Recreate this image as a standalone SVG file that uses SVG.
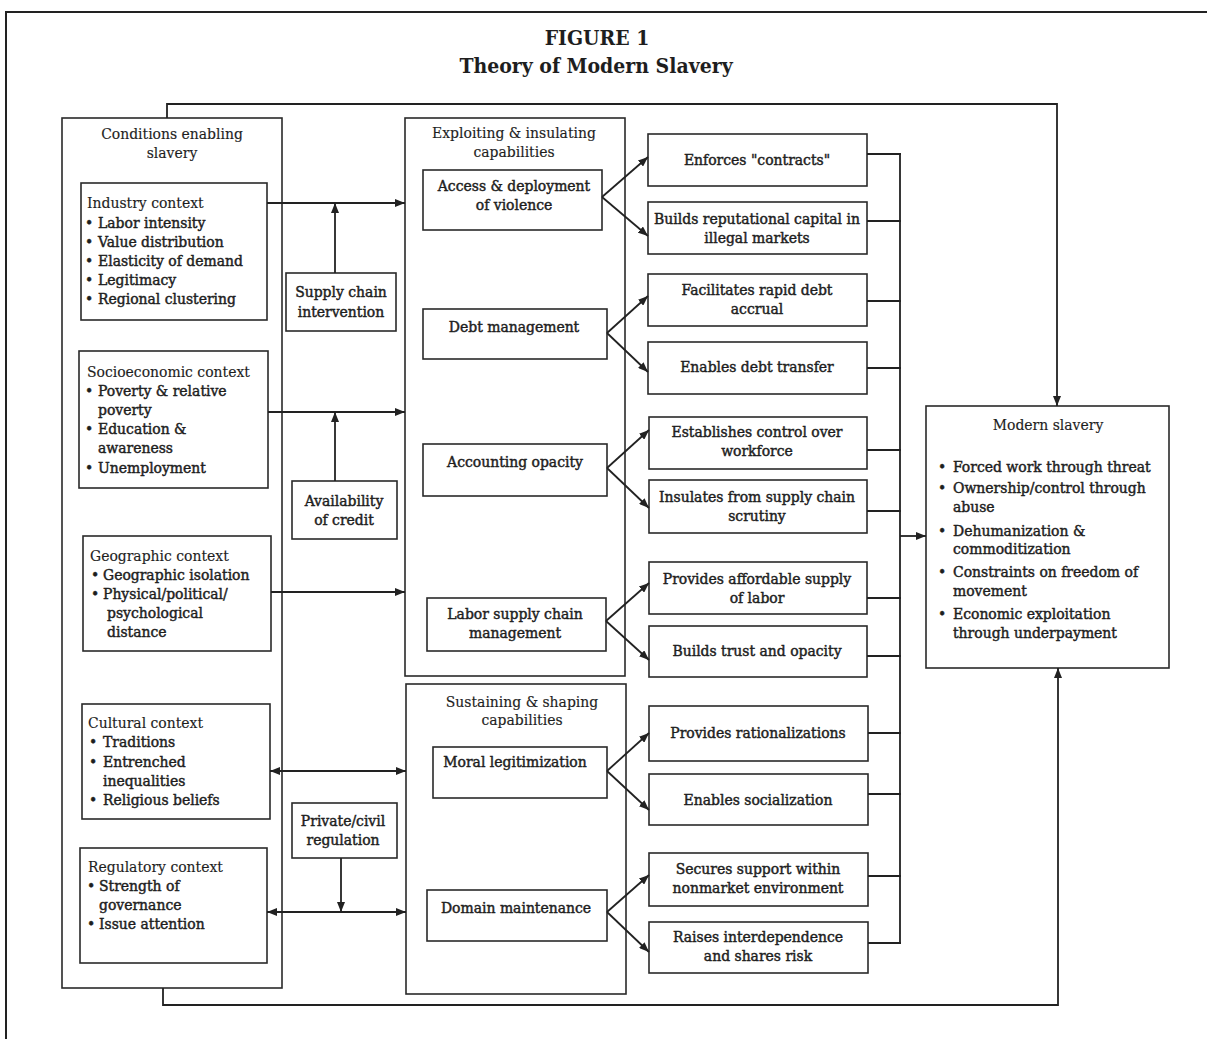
<svg xmlns="http://www.w3.org/2000/svg" width="1207" height="1039" viewBox="0 0 1207 1039">
<style>
text{font-family:'DejaVu Serif Condensed','DejaVu Serif',serif;font-size:15.5px;fill:#1e1e1e;stroke:#1e1e1e;stroke-width:0.15}
.t{font-size:21px;font-weight:bold;text-anchor:middle;stroke-width:0}
.c{text-anchor:middle}
.b{stroke-width:0.45}
.box{fill:none;stroke:#2a2a2a;stroke-width:1.6}
.ln{fill:none;stroke:#222;stroke-width:1.8}
</style>
<defs>
<marker id="ah" viewBox="0 0 10 8" refX="10" refY="4" markerWidth="10" markerHeight="8" markerUnits="userSpaceOnUse" orient="auto-start-reverse"><path d="M0,0 L10,4 L0,8 Z" fill="#222"/></marker>
</defs>
<rect width="1207" height="1039" fill="#fff"/>
<path d="M6,1039 V12 H1207" fill="none" stroke="#222" stroke-width="2"/>
<g id="title">
<text class="t" x="597" y="45">FIGURE 1</text>
<text class="t" x="596" y="73">Theory of Modern Slavery</text>
</g>
<g id="conditions">
<rect class="box" x="62" y="118" width="220" height="870"/>
<text class="c" x="172" y="139">Conditions enabling</text>
<text class="c" x="172" y="158">slavery</text>
</g>
<g id="industry">
<rect class="box" x="81" y="183" width="186" height="137"/>
<text x="87" y="208">Industry context</text>
<text class="b" x="85" y="228">•<tspan x="98">Labor intensity</tspan></text>
<text class="b" x="85" y="247">•<tspan x="98">Value distribution</tspan></text>
<text class="b" x="85" y="266">•<tspan x="98">Elasticity of demand</tspan></text>
<text class="b" x="85" y="285">•<tspan x="98">Legitimacy</tspan></text>
<text class="b" x="85" y="304">•<tspan x="98">Regional clustering</tspan></text>
</g>
<g id="socio">
<rect class="box" x="79" y="351" width="189" height="137"/>
<text x="87" y="377">Socioeconomic context</text>
<text class="b" x="85" y="396">•<tspan x="98">Poverty &amp; relative</tspan></text>
<text class="b" x="98" y="415">poverty</text>
<text class="b" x="85" y="434">•<tspan x="98">Education &amp;</tspan></text>
<text class="b" x="98" y="453">awareness</text>
<text class="b" x="85" y="473">•<tspan x="98">Unemployment</tspan></text>
</g>
<g id="geo">
<rect class="box" x="83" y="536" width="188" height="115"/>
<text x="90" y="561">Geographic context</text>
<text class="b" x="91" y="580">•<tspan x="103">Geographic isolation</tspan></text>
<text class="b" x="91" y="599">•<tspan x="103">Physical/political/</tspan></text>
<text class="b" x="107" y="618">psychological</text>
<text class="b" x="107" y="637">distance</text>
</g>
<g id="cultural">
<rect class="box" x="82" y="704" width="188" height="115"/>
<text x="88" y="728">Cultural context</text>
<text class="b" x="89" y="747">•<tspan x="103">Traditions</tspan></text>
<text class="b" x="89" y="767">•<tspan x="103">Entrenched</tspan></text>
<text class="b" x="103" y="786">inequalities</text>
<text class="b" x="89" y="805">•<tspan x="103">Religious beliefs</tspan></text>
</g>
<g id="regulatory">
<rect class="box" x="80" y="848" width="187" height="115"/>
<text x="88" y="872">Regulatory context</text>
<text class="b" x="87" y="891">•<tspan x="99">Strength of</tspan></text>
<text class="b" x="99" y="910">governance</text>
<text class="b" x="87" y="929">•<tspan x="99">Issue attention</tspan></text>
</g>
<g id="supply-chain">
<rect class="box" x="286" y="273" width="110" height="58"/>
<text class="c b" x="341" y="297">Supply chain</text>
<text class="c b" x="341" y="317">intervention</text>
</g>
<g id="credit">
<rect class="box" x="292" y="481" width="105" height="58"/>
<text class="c b" x="344" y="506">Availability</text>
<text class="c b" x="344" y="525">of credit</text>
</g>
<g id="private-civil">
<rect class="box" x="292" y="803" width="105" height="55"/>
<text class="c b" x="343" y="826">Private/civil</text>
<text class="c b" x="343" y="845">regulation</text>
</g>
<g id="exploiting">
<rect class="box" x="405" y="118" width="220" height="558"/>
<text class="c" x="514" y="138">Exploiting &amp; insulating</text>
<text class="c" x="514" y="157">capabilities</text>
</g>
<g id="violence">
<rect class="box" x="423" y="170" width="179" height="60"/>
<text class="c b" x="514" y="191">Access &amp; deployment</text>
<text class="c b" x="514" y="210">of violence</text>
</g>
<g id="debt">
<rect class="box" x="423" y="309" width="184" height="50"/>
<text class="c b" x="514" y="332">Debt management</text>
</g>
<g id="accounting">
<rect class="box" x="423" y="444" width="184" height="52"/>
<text class="c b" x="515" y="467">Accounting opacity</text>
</g>
<g id="labor">
<rect class="box" x="427" y="598" width="179" height="53"/>
<text class="c b" x="515" y="619">Labor supply chain</text>
<text class="c b" x="515" y="638">management</text>
</g>
<g id="sustaining">
<rect class="box" x="406" y="684" width="220" height="310"/>
<text class="c" x="522" y="707">Sustaining &amp; shaping</text>
<text class="c" x="522" y="725">capabilities</text>
</g>
<g id="moral">
<rect class="box" x="433" y="747" width="174" height="51"/>
<text class="c b" x="515" y="767">Moral legitimization</text>
</g>
<g id="domain">
<rect class="box" x="427" y="890" width="180" height="51"/>
<text class="c b" x="516" y="913">Domain maintenance</text>
</g>
<g id="enforces">
<rect class="box" x="648" y="134" width="219" height="52"/>
<text class="c b" x="757" y="165">Enforces "contracts"</text>
</g>
<g id="reputational">
<rect class="box" x="648" y="202" width="219" height="52"/>
<text class="c b" x="757" y="224">Builds reputational capital in</text>
<text class="c b" x="757" y="243">illegal markets</text>
</g>
<g id="accrual">
<rect class="box" x="648" y="274" width="219" height="52"/>
<text class="c b" x="757" y="295">Facilitates rapid debt</text>
<text class="c b" x="757" y="314">accrual</text>
</g>
<g id="transfer">
<rect class="box" x="648" y="342" width="219" height="52"/>
<text class="c b" x="757" y="372">Enables debt transfer</text>
</g>
<g id="control">
<rect class="box" x="649" y="417" width="218" height="52"/>
<text class="c b" x="757" y="437">Establishes control over</text>
<text class="c b" x="757" y="456">workforce</text>
</g>
<g id="insulates">
<rect class="box" x="649" y="480" width="218" height="53"/>
<text class="c b" x="757" y="502">Insulates from supply chain</text>
<text class="c b" x="757" y="521">scrutiny</text>
</g>
<g id="affordable">
<rect class="box" x="649" y="562" width="218" height="52"/>
<text class="c b" x="757" y="584">Provides affordable supply</text>
<text class="c b" x="757" y="603">of labor</text>
</g>
<g id="trust">
<rect class="box" x="649" y="626" width="218" height="51"/>
<text class="c b" x="757" y="656">Builds trust and opacity</text>
</g>
<g id="rationalizations">
<rect class="box" x="649" y="706" width="219" height="55"/>
<text class="c b" x="758" y="738">Provides rationalizations</text>
</g>
<g id="socialization">
<rect class="box" x="649" y="774" width="219" height="51"/>
<text class="c b" x="758" y="805">Enables socialization</text>
</g>
<g id="nonmarket">
<rect class="box" x="649" y="853" width="219" height="53"/>
<text class="c b" x="758" y="874">Secures support within</text>
<text class="c b" x="758" y="893">nonmarket environment</text>
</g>
<g id="interdependence">
<rect class="box" x="649" y="922" width="219" height="51"/>
<text class="c b" x="758" y="942">Raises interdependence</text>
<text class="c b" x="758" y="961">and shares risk</text>
</g>
<g id="modern-slavery">
<rect class="box" x="926" y="406" width="243" height="262"/>
<text class="c" x="1048" y="430">Modern slavery</text>
<text class="b" x="938" y="472">•<tspan x="953">Forced work through threat</tspan></text>
<text class="b" x="938" y="493">•<tspan x="953">Ownership/control through</tspan></text>
<text class="b" x="953" y="512">abuse</text>
<text class="b" x="938" y="536">•<tspan x="953">Dehumanization &amp;</tspan></text>
<text class="b" x="953" y="554">commoditization</text>
<text class="b" x="938" y="577">•<tspan x="953">Constraints on freedom of</tspan></text>
<text class="b" x="953" y="596">movement</text>
<text class="b" x="938" y="619">•<tspan x="953">Economic exploitation</tspan></text>
<text class="b" x="953" y="638">through underpayment</text>
</g>
<g id="connectors">
<path class="ln" d="M167,118 V104 H1057 V406" marker-end="url(#ah)"/>
<path class="ln" d="M163,988 V1005 H1058 V668" marker-end="url(#ah)"/>
<path class="ln" d="M267,203 H405" marker-end="url(#ah)"/>
<path class="ln" d="M335,273 V203" marker-end="url(#ah)"/>
<path class="ln" d="M268,412 H405" marker-end="url(#ah)"/>
<path class="ln" d="M335,481 V412" marker-end="url(#ah)"/>
<path class="ln" d="M271,592 H405" marker-end="url(#ah)"/>
<path class="ln" d="M270,771 H406" marker-start="url(#ah)" marker-end="url(#ah)"/>
<path class="ln" d="M267,912 H406" marker-start="url(#ah)" marker-end="url(#ah)"/>
<path class="ln" d="M341,858 V912" marker-end="url(#ah)"/>
<path class="ln" d="M602,197 L648,157" marker-end="url(#ah)"/>
<path class="ln" d="M602,197 L648,236" marker-end="url(#ah)"/>
<path class="ln" d="M607,333 L648,296" marker-end="url(#ah)"/>
<path class="ln" d="M607,333 L648,372" marker-end="url(#ah)"/>
<path class="ln" d="M607,468 L649,430" marker-end="url(#ah)"/>
<path class="ln" d="M607,468 L649,508" marker-end="url(#ah)"/>
<path class="ln" d="M606,621 L649,583" marker-end="url(#ah)"/>
<path class="ln" d="M606,621 L649,660" marker-end="url(#ah)"/>
<path class="ln" d="M607,771 L649,733" marker-end="url(#ah)"/>
<path class="ln" d="M607,771 L649,810" marker-end="url(#ah)"/>
<path class="ln" d="M607,912 L649,875" marker-end="url(#ah)"/>
<path class="ln" d="M607,912 L649,952" marker-end="url(#ah)"/>
<path class="ln" d="M867,154 H901 M867,221 H901 M867,301 H901 M867,368 H901 M867,450 H901 M867,511 H901 M867,598 H901 M867,656 H901 M868,733 H901 M868,794 H901 M868,876 H901 M868,943 H901 M900,154 V943"/>
<path class="ln" d="M900,536 H926" marker-end="url(#ah)"/>
</g>
</svg>
